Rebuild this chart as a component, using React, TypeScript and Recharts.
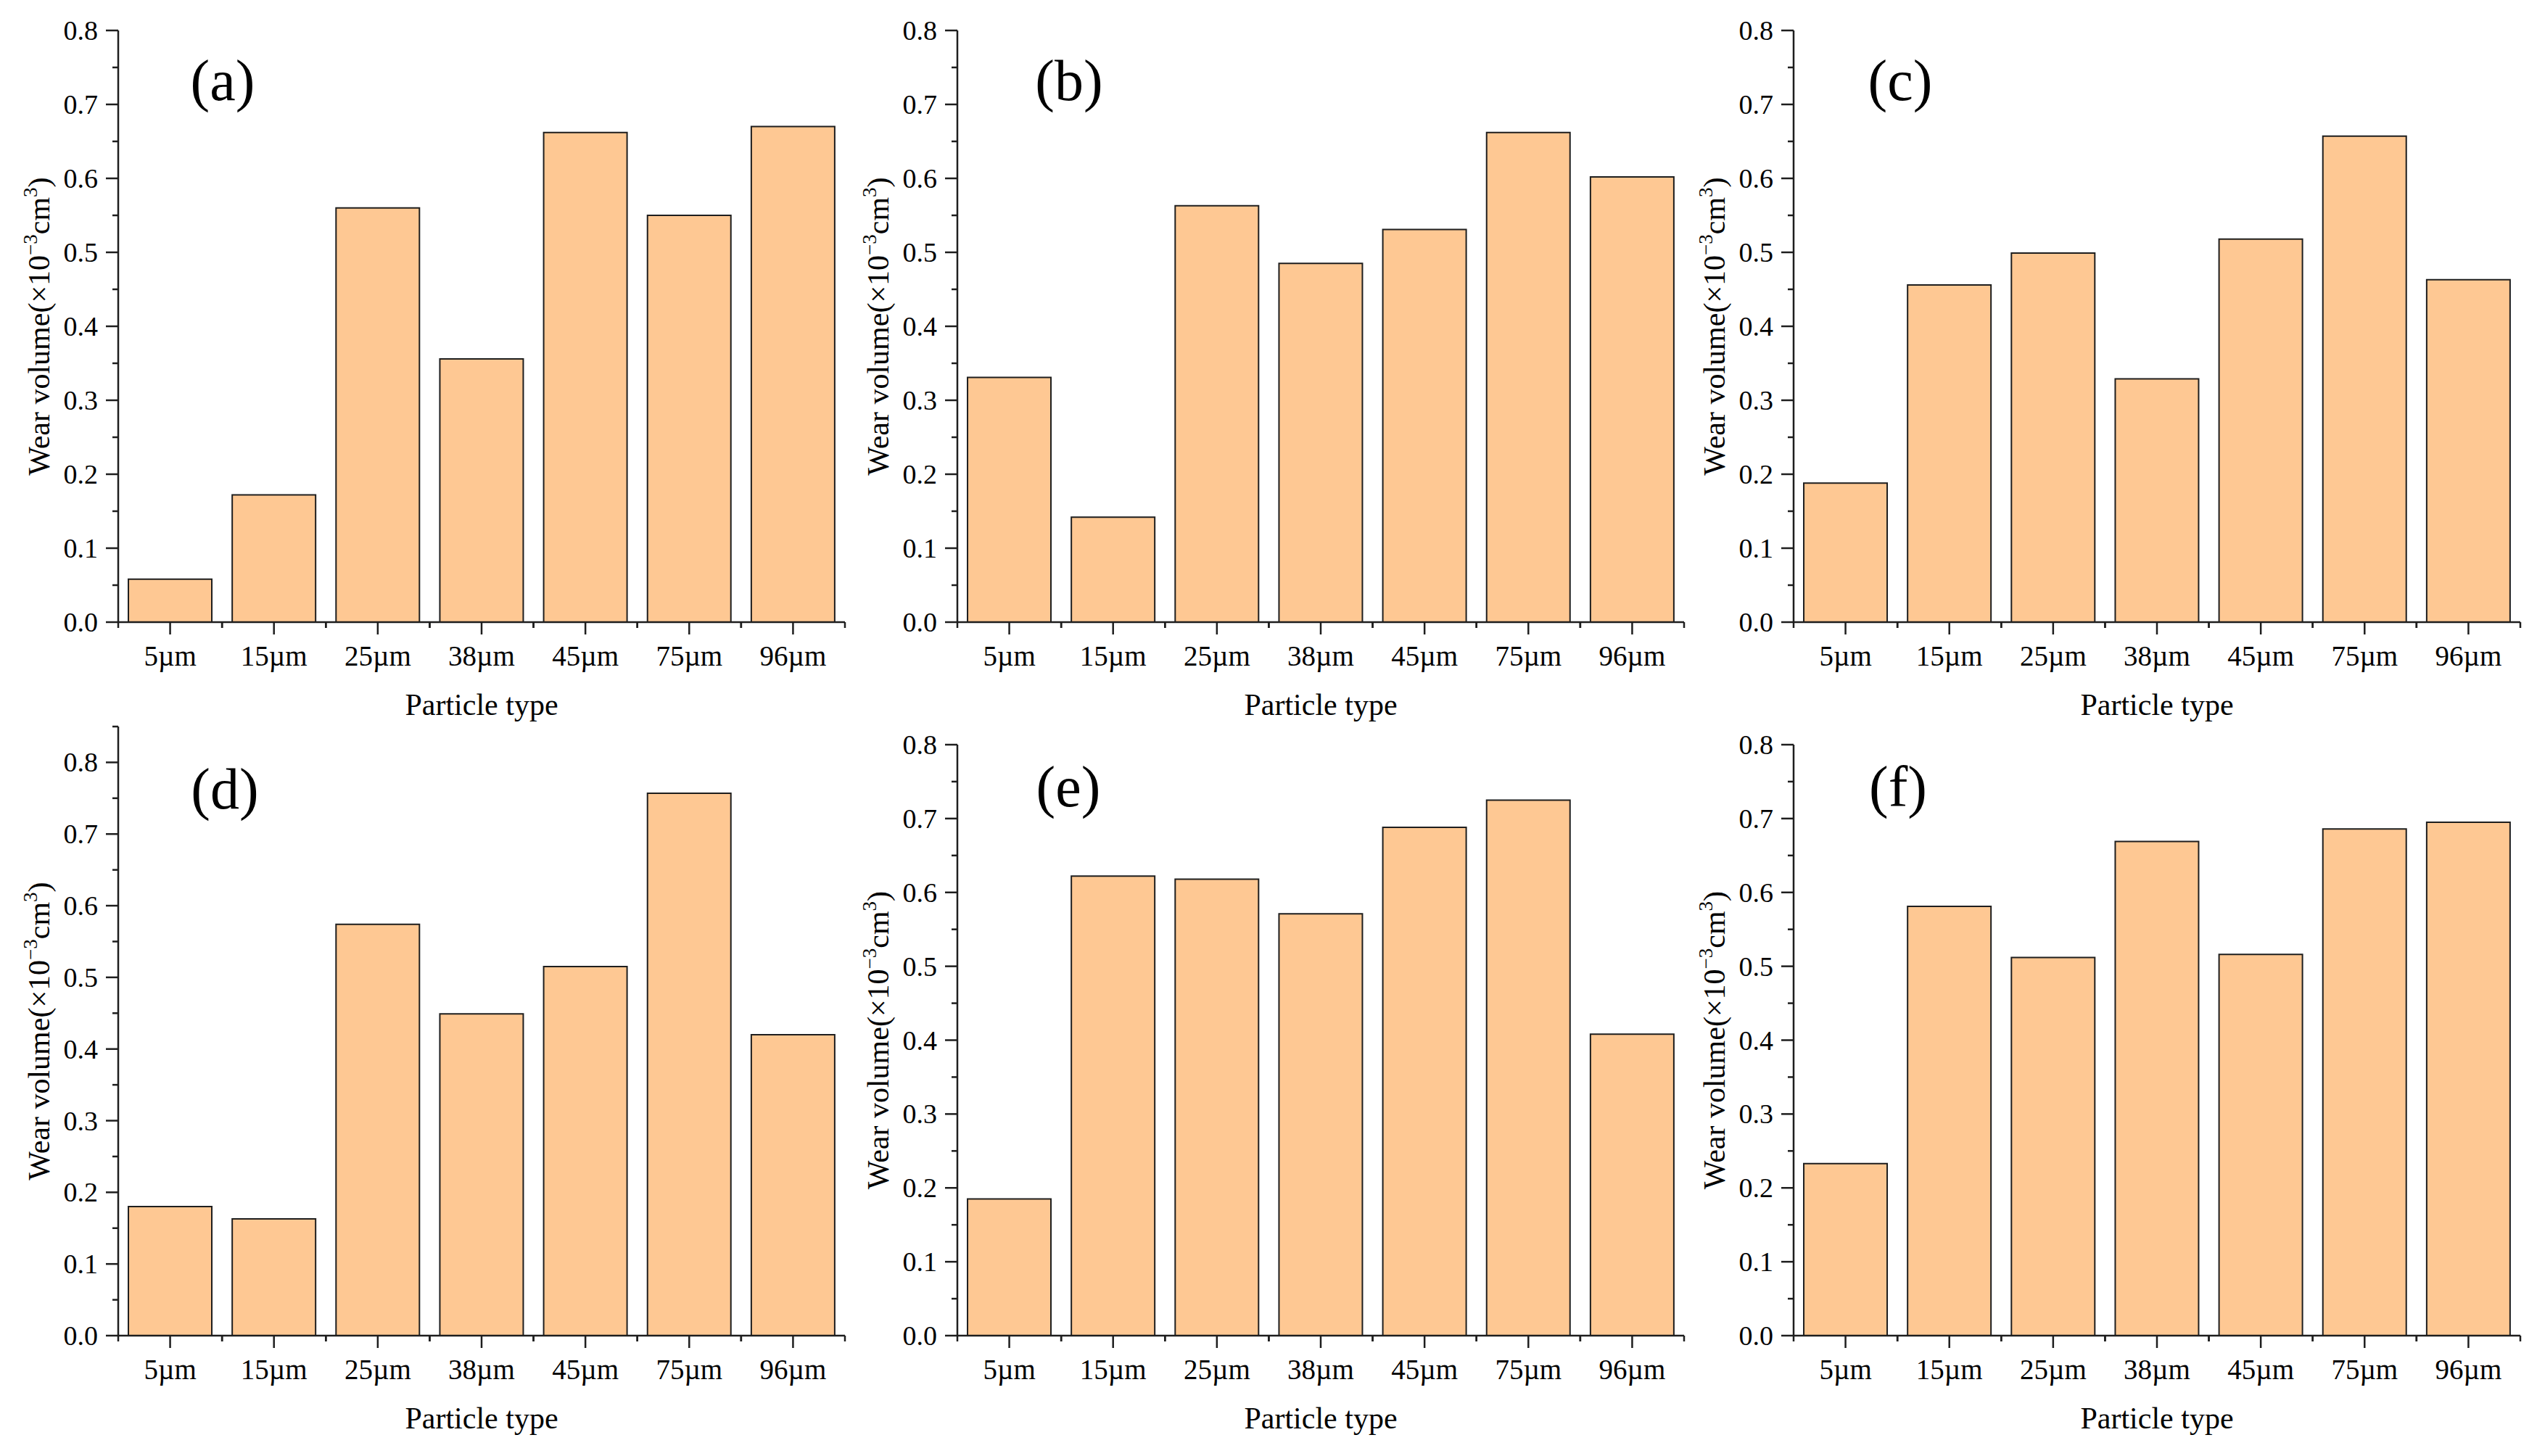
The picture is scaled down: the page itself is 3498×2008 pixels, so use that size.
import React from 'react'
import { BarChart, Bar, XAxis, YAxis } from 'recharts'

// particle sizes on the x axis
const PARTICLES = ['5µm', '15µm', '25µm', '38µm', '45µm', '75µm', '96µm']

// wear volume (×10⁻³ cm³), one array per sub-figure
const WEAR_A = [0.058, 0.172, 0.56, 0.356, 0.662, 0.55, 0.67]
const WEAR_B = [0.331, 0.142, 0.563, 0.485, 0.531, 0.662, 0.602]
const WEAR_C = [0.188, 0.456, 0.499, 0.329, 0.518, 0.657, 0.463]
const WEAR_D = [0.18, 0.163, 0.574, 0.449, 0.515, 0.757, 0.42]
const WEAR_E = [0.185, 0.622, 0.618, 0.571, 0.688, 0.725, 0.408]
const WEAR_F = [0.233, 0.581, 0.512, 0.669, 0.516, 0.686, 0.695]

// y ticks (majors every 0.1 get a label, the 0.05 ones are minor)
const Y_TICKS = [0, 0.05, 0.1, 0.15, 0.2, 0.25, 0.3, 0.35, 0.4, 0.45, 0.5, 0.55, 0.6, 0.65, 0.7, 0.75, 0.8]
const Y_TICKS_D = [...Y_TICKS, 0.85]

const FONT = '"Liberation Serif", "Times New Roman", serif'
const BAR_FILL = '#FEC893'
const INK = '#1e1e1e'

const LEFT = 163 // space left of the plot inside each chart
const TOP = 42
const PLOT_W = 1002
const BAND = PLOT_W / PARTICLES.length

interface PanelDef {
  letter: string
  values: number[]
  axisX: number
  plotTop: number
  plotH: number
  yMax: number
  ticks: number[]
  letterDx: number
  letterY: number
}

const PANELS: PanelDef[] = [
  { letter: '(a)', values: WEAR_A, axisX: 163, plotTop: 42, plotH: 816, yMax: 0.8, ticks: Y_TICKS, letterDx: 144, letterY: 138 },
  { letter: '(b)', values: WEAR_B, axisX: 1320, plotTop: 42, plotH: 816, yMax: 0.8, ticks: Y_TICKS, letterDx: 154, letterY: 138 },
  { letter: '(c)', values: WEAR_C, axisX: 2473, plotTop: 42, plotH: 816, yMax: 0.8, ticks: Y_TICKS, letterDx: 147, letterY: 138 },
  { letter: '(d)', values: WEAR_D, axisX: 163, plotTop: 1002, plotH: 840, yMax: 0.85, ticks: Y_TICKS_D, letterDx: 147, letterY: 1115 },
  { letter: '(e)', values: WEAR_E, axisX: 1320, plotTop: 1027, plotH: 815, yMax: 0.8, ticks: Y_TICKS, letterDx: 153, letterY: 1112 },
  { letter: '(f)', values: WEAR_F, axisX: 2473, plotTop: 1027, plotH: 815, yMax: 0.8, ticks: Y_TICKS, letterDx: 144, letterY: 1112 },
]

function YTick(props: any) {
  const { x, y, payload } = props
  const v = payload.value as number
  const major = Math.round(v * 100) % 10 === 0
  return (
    <g>
      <line x1={x} x2={x - (major ? 17 : 8)} y1={y} y2={y} stroke={INK} strokeWidth={2.5} />
      {major && (
        <text x={x - 28} y={y} dy={13} textAnchor="end" fontSize={38} fontFamily={FONT} fill="#000">
          {v.toFixed(1)}
        </text>
      )}
    </g>
  )
}

function XTick(props: any) {
  const { x, y, payload } = props
  const half = BAND / 2
  return (
    <g>
      <line x1={x} x2={x} y1={y} y2={y + 17} stroke={INK} strokeWidth={2.5} />
      <line x1={x - half} x2={x - half} y1={y} y2={y + 8} stroke={INK} strokeWidth={2.5} />
      <line x1={x + half} x2={x + half} y1={y} y2={y + 8} stroke={INK} strokeWidth={2.5} />
      <text x={x} y={y + 60} textAnchor="middle" fontSize={39} fontFamily={FONT} fill="#000">
        {payload.value}
      </text>
    </g>
  )
}

function YLabel(props: any) {
  const vb = props.viewBox ?? { x: 0, y: 0, width: LEFT, height: 0 }
  const cx = vb.x + vb.width - 95
  const cy = vb.y + vb.height / 2
  return (
    <text
      x={cx}
      y={cy}
      transform={`rotate(-90 ${cx} ${cy})`}
      textAnchor="middle"
      fontSize={42}
      fontFamily={FONT}
      fill="#000"
    >
      Wear volume(×10
      <tspan dy={-17} fontSize={27}>−3</tspan>
      <tspan dy={17}>cm</tspan>
      <tspan dy={-17} fontSize={27}>3</tspan>
      <tspan dy={17}>)</tspan>
    </text>
  )
}

function XLabel(props: any) {
  const vb = props.viewBox ?? { x: LEFT, y: 0, width: PLOT_W, height: 0 }
  return (
    <text x={vb.x + vb.width / 2} y={vb.y + 128} textAnchor="middle" fontSize={42} fontFamily={FONT} fill="#000">
      Particle type
    </text>
  )
}

function Panel({ def }: { def: PanelDef }) {
  const data = PARTICLES.map((name, i) => ({ name, wear: def.values[i] }))
  const height = TOP + def.plotH + 150
  return (
    <div style={{ position: 'absolute', left: def.axisX - LEFT, top: def.plotTop - TOP }}>
      <BarChart
        width={LEFT + PLOT_W + 12}
        height={height}
        data={data}
        margin={{ top: TOP, right: 12, bottom: 0, left: 0 }}
        barCategoryGap="9.8%"
      >
        <XAxis
          dataKey="name"
          interval={0}
          height={150}
          tickLine={false}
          tickSize={0}
          tickMargin={0}
          tick={<XTick />}
          axisLine={{ stroke: INK, strokeWidth: 2.5 }}
          label={<XLabel />}
        />
        <YAxis
          type="number"
          domain={[0, def.yMax]}
          ticks={def.ticks}
          interval={0}
          width={LEFT}
          tickLine={false}
          tickSize={0}
          tickMargin={0}
          tick={<YTick />}
          axisLine={{ stroke: INK, strokeWidth: 2.5 }}
          allowDataOverflow
          label={<YLabel />}
        />
        <Bar dataKey="wear" fill={BAR_FILL} stroke={INK} strokeWidth={2} isAnimationActive={false} />
      </BarChart>
    </div>
  )
}

export default function App() {
  return (
    <div style={{ position: 'absolute', left: 0, top: 0, width: 3498, height: 2008, background: '#fff', overflow: 'hidden' }}>
      {PANELS.map((p) => (
        <Panel key={p.letter} def={p} />
      ))}
      <svg width={3498} height={2008} style={{ position: 'absolute', left: 0, top: 0, pointerEvents: 'none' }}>
        {PANELS.map((p) => (
          <text key={p.letter} x={p.axisX + p.letterDx} y={p.letterY} textAnchor="middle" fontSize={80} fontFamily={FONT} fill="#000">
            {p.letter}
          </text>
        ))}
      </svg>
    </div>
  )
}
